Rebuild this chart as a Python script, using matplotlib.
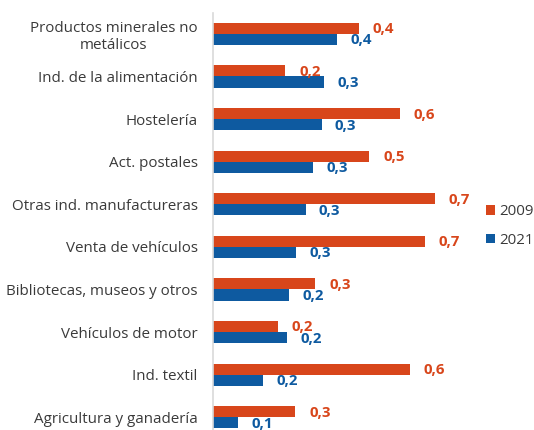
import matplotlib
matplotlib.use("Agg")
import matplotlib.pyplot as plt
import numpy as np

categories = ["Productos minerales no\nmetálicos", "Ind. de la alimentación", "Hostelería",
              "Act. postales", "Otras ind. manufactureras", "Venta de vehículos",
              "Bibliotecas, museos y otros", "Vehículos de motor", "Ind. textil",
              "Agricultura y ganadería"]
v2009 = [0.448, 0.222, 0.575, 0.48, 0.683, 0.652, 0.314, 0.2, 0.606, 0.253]
v2021 = [0.382, 0.342, 0.335, 0.308, 0.286, 0.256, 0.234, 0.228, 0.154, 0.077]
series_names = ["2009", "2021"]

c09 = "#D8461B"
c21 = "#0E5AA0"
txt = "#3A3A3A"

plt.rcParams['font.family'] = ['Open Sans', 'DejaVu Sans']

fig = plt.figure(figsize=(5.34, 4.30), dpi=100)
ax = fig.add_axes([213/534, 0.0, 260/534, 417/430])

y = np.arange(len(categories))
h = 0.26
b1 = ax.barh(y - h/2, v2009, height=h, color=c09, label=series_names[0])
b2 = ax.barh(y + h/2, v2021, height=h, color=c21, label=series_names[1])

ax.set_xlim(0, 0.8)
ax.set_ylim(9.3, -0.49)
ax.set_yticks(y)
ax.set_yticklabels(categories, fontsize=10.9, color=txt)
for t in ax.get_yticklabels():
    t.set_multialignment('center')
ax.tick_params(axis='y', length=0, pad=11)
ax.set_xticks([])
for s in ["top", "right", "bottom"]:
    ax.spines[s].set_visible(False)
ax.spines["left"].set_color("#D9D9D9")
ax.spines["left"].set_linewidth(1.2)

def fmt(v):
    return f"{v:.1f}".replace(".", ",")

for yi, v in zip(y, v2009):
    ax.annotate(fmt(v), (v, yi - h/2), xytext=(14, -1), textcoords="offset pixels",
                ha="left", va="center", color=c09, fontsize=10.8, fontweight="bold")
for yi, v in zip(y, v2021):
    ax.annotate(fmt(v), (v, yi + h/2), xytext=(13, -1), textcoords="offset pixels",
                ha="left", va="center", color=c21, fontsize=10.8, fontweight="bold")

fig.legend(handles=[b1, b2], labels=series_names, loc="center left",
           bbox_to_anchor=(486/534, 1 - 226/430), frameon=False, fontsize=10.8,
           handlelength=0.6, handleheight=0.6, handletextpad=0.25, labelspacing=0.9,
           borderpad=0, borderaxespad=0, labelcolor=txt)

fig.savefig("out.png", dpi=100)
